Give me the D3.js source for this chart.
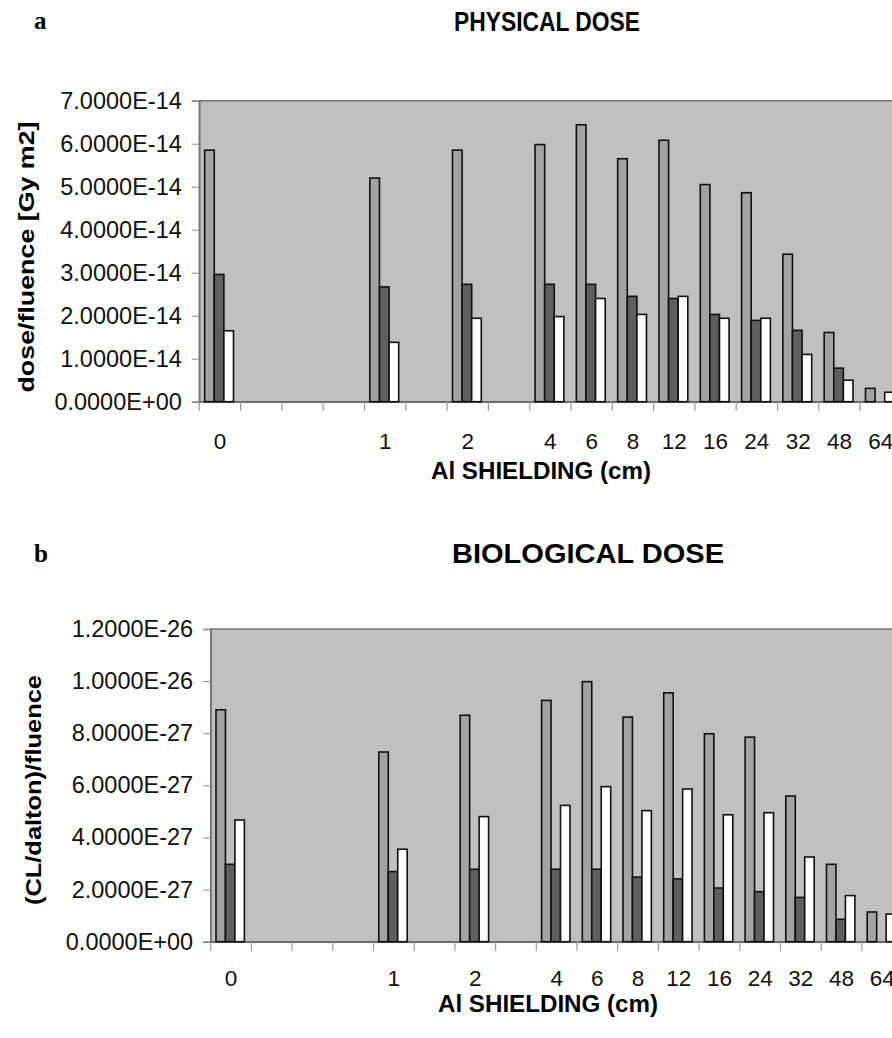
<!DOCTYPE html>
<html>
<head>
<meta charset="utf-8">
<script src="https://cdn.jsdelivr.net/npm/d3@7"></script>
<style>
  html, body { margin: 0; padding: 0; background: #fff; }
  svg { display: block; }
</style>
</head>
<body>
<script>
// ---------- DATA ----------
const categories = ["0", "", "", "", "1", "", "2", "", "4", "6", "8", "12", "16", "24", "32", "48", "64"];

// Physical dose (Gy m2 per fluence)
const physSeriesA = [5.85e-14, null, null, null, 5.20e-14, null, 5.85e-14, null, 5.98e-14, 6.44e-14, 5.65e-14, 6.08e-14, 5.05e-14, 4.86e-14, 3.43e-14, 1.61e-14, 0.31e-14];
const physSeriesB = [2.96e-14, null, null, null, 2.67e-14, null, 2.73e-14, null, 2.73e-14, 2.73e-14, 2.45e-14, 2.40e-14, 2.03e-14, 1.89e-14, 1.66e-14, 0.78e-14, 0];
const physSeriesC = [1.65e-14, null, null, null, 1.38e-14, null, 1.94e-14, null, 1.98e-14, 2.40e-14, 2.03e-14, 2.45e-14, 1.94e-14, 1.94e-14, 1.10e-14, 0.50e-14, 0.22e-14];

// Biological dose ((CL/dalton) per fluence)
const bioSeriesA = [8.90e-27, null, null, null, 7.28e-27, null, 8.69e-27, null, 9.26e-27, 9.98e-27, 8.62e-27, 9.55e-27, 7.98e-27, 7.85e-27, 5.59e-27, 2.97e-27, 1.14e-27];
const bioSeriesB = [2.97e-27, null, null, null, 2.69e-27, null, 2.78e-27, null, 2.78e-27, 2.78e-27, 2.48e-27, 2.41e-27, 2.06e-27, 1.92e-27, 1.70e-27, 0.86e-27, 0];
const bioSeriesC = [4.67e-27, null, null, null, 3.55e-27, null, 4.80e-27, null, 5.23e-27, 5.95e-27, 5.03e-27, 5.86e-27, 4.87e-27, 4.95e-27, 3.25e-27, 1.77e-27, 1.06e-27];

const physTicks = [0, 1e-14, 2e-14, 3e-14, 4e-14, 5e-14, 6e-14, 7e-14];
const physTickLabels = ["0.0000E+00", "1.0000E-14", "2.0000E-14", "3.0000E-14", "4.0000E-14", "5.0000E-14", "6.0000E-14", "7.0000E-14"];
const bioTicks = [0, 2e-27, 4e-27, 6e-27, 8e-27, 1e-26, 1.2e-26];
const bioTickLabels = ["0.0000E+00", "2.0000E-27", "4.0000E-27", "6.0000E-27", "8.0000E-27", "1.0000E-26", "1.2000E-26"];

const seriesColors = ["#a3a3a3", "#5f5f5f", "#ffffff"];

// ---------- DRAW ----------
const W = 892, H = 1038;
const SANS = "'Liberation Sans', Arial, sans-serif";
const SERIF = "'Liberation Serif', 'Times New Roman', serif";
const svg = d3.select("body").append("svg").attr("width", W).attr("height", H);

function panel(opt) {
  const g = svg.append("g");
  const x = d3.scaleBand().domain(d3.range(categories.length))
    .range([opt.left, opt.left + opt.slot * categories.length]).padding(0);
  const xs = d3.scaleBand().domain([0, 1, 2]).range([0, x.bandwidth()])
    .paddingInner(0).paddingOuter(0.65).align(0.43);
  const y = d3.scaleLinear().domain([0, opt.max]).range([opt.bottom, opt.top]);

  // plot area
  g.append("rect")
    .attr("x", x.range()[0]).attr("y", y(opt.max))
    .attr("width", x.range()[1] - x.range()[0]).attr("height", y(0) - y(opt.max))
    .attr("fill", "#c0c0c0").attr("stroke", "#767676").attr("stroke-width", 1.5);

  // y axis
  const ya = g.append("g").attr("transform", `translate(${x.range()[0]},0)`)
    .call(d3.axisLeft(y).tickValues(opt.ticks)
      .tickFormat((d, i) => opt.tickLabels[i]).tickSizeOuter(0).tickSize(7.5).tickPadding(10));
  ya.select(".domain").attr("stroke", "#767676").attr("stroke-width", 1.5);
  ya.selectAll(".tick line").attr("stroke", "#8a8a8a");
  ya.selectAll(".tick text").style("font-size", "23.5px").style("fill", "#111").style("font-family", SANS);

  // x axis
  const xa = g.append("g").attr("transform", `translate(0,${y(0)})`)
    .call(d3.axisBottom(x).tickFormat((d) => categories[d]).tickSize(0).tickPadding(opt.labelPad));
  xa.select(".domain").attr("stroke", "#6a6a6a").attr("stroke-width", 1.5);
  xa.selectAll(".tick text").style("font-size", "22.5px").style("fill", "#111").style("font-family", SANS);
  // tick marks at category boundaries
  xa.selectAll("line.bnd").data(d3.range(categories.length + 1)).join("line")
    .attr("class", "bnd")
    .attr("x1", (i) => x.range()[0] + i * x.step()).attr("x2", (i) => x.range()[0] + i * x.step())
    .attr("y1", 0).attr("y2", 9).attr("stroke", "#9a9a9a").attr("stroke-width", 1.2);

  // bars
  opt.series.forEach((vals, s) => {
    g.append("g").selectAll("rect")
      .data(vals.map((v, i) => ({ v, i })).filter((d) => d.v != null && d.v > 0))
      .join("rect")
      .attr("x", (d) => x(d.i) + xs(s))
      .attr("y", (d) => y(d.v))
      .attr("width", xs.bandwidth())
      .attr("height", (d) => y(0) - y(d.v))
      .attr("fill", seriesColors[s])
      .attr("stroke", "#111").attr("stroke-width", 1.6);
  });

  // y axis title
  svg.append("text")
    .attr("transform", `translate(${opt.yTitleX},${opt.yTitleY}) rotate(-90)`)
    .attr("text-anchor", "middle")
    .style("font-family", SANS).style("font-weight", "bold").style("font-size", "22px")
    .attr("textLength", opt.yTitleLen).attr("lengthAdjust", "spacingAndGlyphs")
    .text(opt.yTitle);

  // x axis title
  svg.append("text")
    .attr("x", opt.xTitleX).attr("y", opt.xTitleY)
    .attr("text-anchor", "middle")
    .style("font-family", SANS).style("font-weight", "bold").style("font-size", "23px")
    .attr("textLength", 220).attr("lengthAdjust", "spacingAndGlyphs")
    .text("Al SHIELDING (cm)");

  // chart title
  svg.append("text")
    .attr("x", opt.titleX).attr("y", opt.titleY)
    .attr("text-anchor", "middle")
    .style("font-family", SANS).style("font-weight", "bold").style("font-size", "27px")
    .attr("textLength", opt.titleLen).attr("lengthAdjust", "spacingAndGlyphs")
    .text(opt.title);

  // panel letter
  svg.append("text")
    .attr("x", 34).attr("y", opt.letterY)
    .style("font-family", SERIF).style("font-weight", "bold").style("font-size", "25px")
    .text(opt.letter);
}

panel({
  left: 199.3, slot: 41.3, top: 100.7, bottom: 401.7, max: 7e-14,
  ticks: physTicks, tickLabels: physTickLabels,
  series: [physSeriesA, physSeriesB, physSeriesC],
  labelPad: 31,
  yTitle: "dose/fluence [Gy m2]", yTitleX: 34, yTitleY: 257, yTitleLen: 271,
  xTitleX: 541, xTitleY: 479,
  title: "PHYSICAL DOSE", titleX: 547, titleY: 31, titleLen: 186,
  letter: "a", letterY: 29
});

panel({
  left: 210.7, slot: 40.7, top: 629, bottom: 941.7, max: 1.2e-26,
  ticks: bioTicks, tickLabels: bioTickLabels,
  series: [bioSeriesA, bioSeriesB, bioSeriesC],
  labelPad: 28,
  yTitle: "(CL/dalton)/fluence", yTitleX: 41, yTitleY: 790, yTitleLen: 230,
  xTitleX: 548, xTitleY: 1012,
  title: "BIOLOGICAL DOSE", titleX: 588, titleY: 563, titleLen: 272,
  letter: "b", letterY: 562
});
</script>
</body>
</html>
